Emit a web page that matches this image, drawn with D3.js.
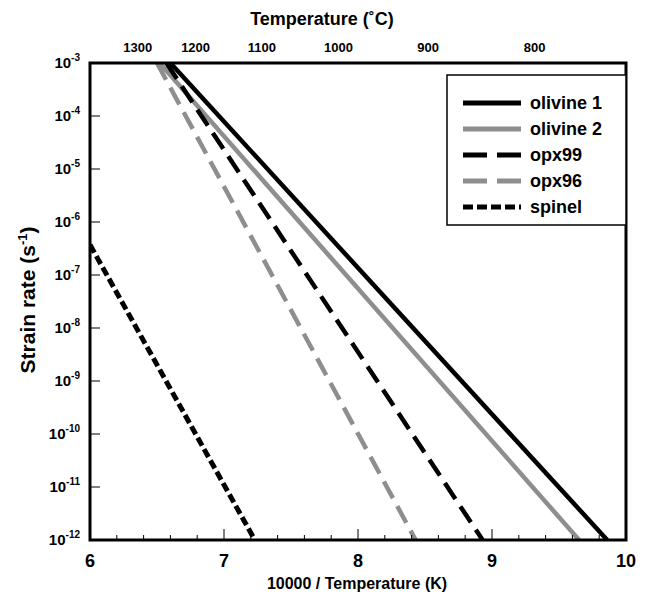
<!DOCTYPE html>
<html><head><meta charset="utf-8">
<script src="https://cdn.jsdelivr.net/npm/d3@7"></script>
<style>body{margin:0;background:#fff;} text{font-family:"Liberation Sans",Arial,sans-serif;font-weight:bold;}</style>
</head><body>
<svg id="c" width="646" height="598"></svg>
<script>
// Data: each series is a straight line in log10(strain rate) vs 10000/T
const seriesNames = ["olivine 1","olivine 2","opx99","opx96","spinel"];
const seriesX = [[6.60, 9.86],[6.52, 9.65],[6.57, 8.93],[6.50, 8.43],[6.00, 7.23]];
const seriesLogRate = [[-3,-12],[-3,-12],[-3,-12],[-3,-12],[-6.43,-12]];
const xTicks = [6,7,8,9,10];
const yTickExps = [-3,-4,-5,-6,-7,-8,-9,-10,-11,-12];
const topTempC = [1300,1200,1100,1000,900,800];

const styles = [
  {color:"#000", dash:null, w:4.5},
  {color:"#8e8e8e", dash:null, w:4.5},
  {color:"#000", dash:"19,9", w:4.5},
  {color:"#8e8e8e", dash:"19,9", w:4.5},
  {color:"#000", dash:"9,4", w:5}
];

const svg = d3.select("#c");
const L=90, R=626, T=63, B=540;
const x = d3.scaleLinear().domain([6,10]).range([L,R]);
const y = d3.scaleLog().domain([1e-12,1e-3]).range([B,T]);

svg.append("clipPath").attr("id","cp").append("rect")
  .attr("x",L).attr("y",T).attr("width",R-L).attr("height",B-T);

const g = svg.append("g").attr("clip-path","url(#cp)");
seriesNames.forEach((n,i)=>{
  const pts = seriesX[i].map((xv,j)=>[x(xv), y(Math.pow(10,seriesLogRate[i][j]))]);
  g.append("path").attr("d", d3.line()(pts))
    .attr("fill","none").attr("stroke",styles[i].color)
    .attr("stroke-width",styles[i].w)
    .attr("stroke-dasharray",styles[i].dash);
});

// Bottom axis ticks (inward)
const minor = d3.range(6,10.001,0.2);
minor.forEach(v=>{
  const isMajor = Math.abs(v-Math.round(v))<1e-6;
  svg.append("line").attr("x1",x(v)).attr("x2",x(v))
    .attr("y1",B).attr("y2",B-(isMajor?11:5))
    .attr("stroke","#000").attr("stroke-width",1);
});
xTicks.forEach(v=>{
  svg.append("text").attr("x",x(v)).attr("y",567).attr("text-anchor","middle")
    .attr("font-size",18).text(v);
});

// Left axis ticks
yTickExps.forEach(e=>{
  const yy = y(Math.pow(10,e));
  svg.append("line").attr("x1",L).attr("x2",L+10).attr("y1",yy).attr("y2",yy)
    .attr("stroke","#000").attr("stroke-width",1);
  const t = svg.append("text").attr("x",80).attr("y",yy+5).attr("text-anchor","end").attr("font-size",15);
  t.append("tspan").text("10");
  t.append("tspan").attr("font-size",10).attr("dy",-7).text(String(e));
});

// Top axis labels
topTempC.forEach(c=>{
  const v = 10000/(c+273.15);
  svg.append("text").attr("x",x(v)).attr("y",52).attr("text-anchor","middle")
    .attr("font-size",13).text(c);
});

// Frame
svg.append("rect").attr("x",L).attr("y",T).attr("width",R-L).attr("height",B-T)
  .attr("fill","none").attr("stroke","#000").attr("stroke-width",3);

// Legend
const lg = svg.append("g");
lg.append("rect").attr("x",447).attr("y",75).attr("width",R-447).attr("height",150)
  .attr("fill","#fff").attr("stroke","#000").attr("stroke-width",1.5);
seriesNames.forEach((n,i)=>{
  const yy = 103 + i*26;
  lg.append("line").attr("x1",463).attr("x2",521).attr("y1",yy).attr("y2",yy)
    .attr("stroke",styles[i].color).attr("stroke-width",5)
    .attr("stroke-dasharray", i===2||i===3 ? "24,10" : (i===4 ? "10,4" : null));
  lg.append("text").attr("x",530).attr("y",yy+6).attr("font-size",18).text(n);
});

// Axis titles
svg.append("text").attr("x",322).attr("y",25).attr("text-anchor","middle").attr("font-size",18)
  .text("Temperature (˚C)");
svg.append("text").attr("x",357).attr("y",589).attr("text-anchor","middle").attr("font-size",16)
  .text("10000 / Temperature (K)");
const yt = svg.append("text").attr("transform","translate(35,300) rotate(-90)").attr("text-anchor","middle").attr("font-size",21);
yt.append("tspan").text("Strain rate (s");
yt.append("tspan").attr("font-size",13).attr("dy",-8).text("-1");
yt.append("tspan").attr("dy",8).text(")");
</script>
</body></html>
